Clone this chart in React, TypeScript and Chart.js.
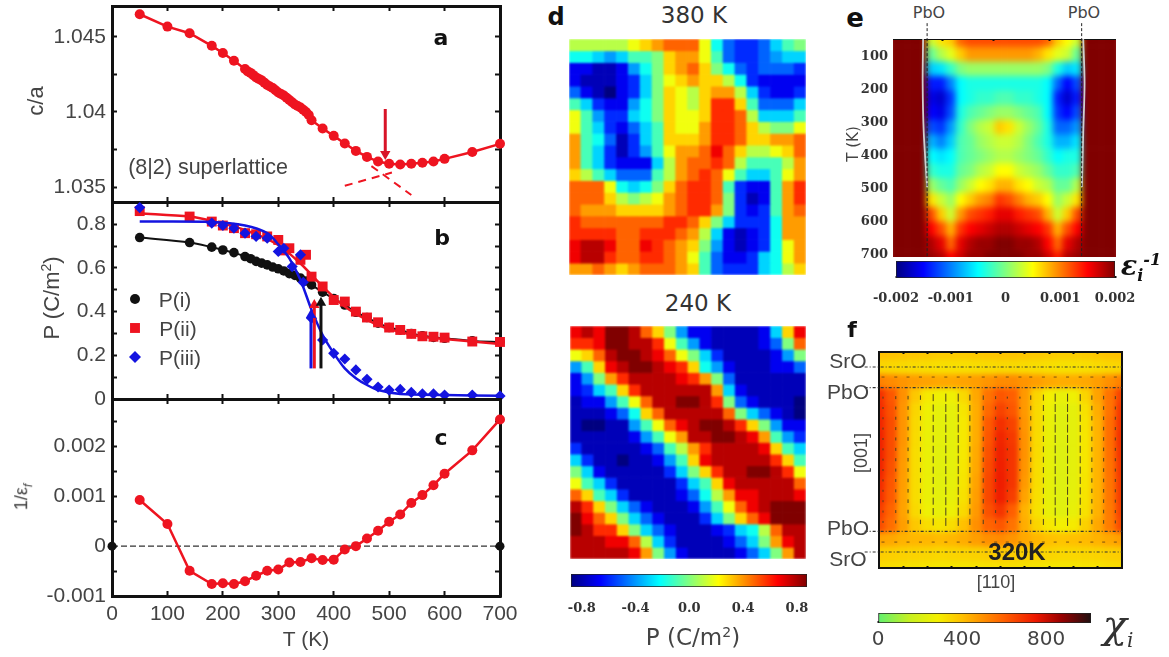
import { useEffect, useRef, type CSSProperties, type ReactNode } from "react"
import { Chart, registerables } from "chart.js"

Chart.register(...registerables)

const GRAY = "#444"
const INK = "#111"
const RED = "#ee1420"
const BLUE = "#1414e0"
const SANS = "'Liberation Sans', sans-serif"
const DEJAVU = "'DejaVu Sans', sans-serif"
const SERIF = "'DejaVu Serif', serif"

// panel a
const aTemps = [50, 100, 140, 180, 200, 220, 240, 245, 250, 255, 260, 265, 270, 275, 280, 285, 290, 295, 300, 305, 310, 315, 320, 325, 330, 335, 340, 345, 350, 355, 360, 380, 400, 420, 440, 460, 480, 500, 520, 540, 560, 580, 600, 650, 700]
const aRatio = [1.0465, 1.04568, 1.04524, 1.0444, 1.04392, 1.04341, 1.04286, 1.0427, 1.0426, 1.04245, 1.0423, 1.0422, 1.0421, 1.04195, 1.0418, 1.0417, 1.0416, 1.04145, 1.0413, 1.0412, 1.0411, 1.04095, 1.0408, 1.04065, 1.0405, 1.0404, 1.0403, 1.04015, 1.04, 1.0398, 1.03945, 1.0389, 1.03841, 1.0379, 1.03741, 1.03701, 1.0367, 1.03655, 1.0365, 1.03655, 1.03662, 1.0367, 1.03688, 1.03734, 1.03788]
const aDashA = [{ x: 420, y: 1.03509 }, { x: 505, y: 1.03597 }]
const aDashB = [{ x: 468, y: 1.0364 }, { x: 540, y: 1.03448 }]
const aArrow = [{ x: 493, y: 1.0402 }, { x: 493, y: 1.0372 }]
const aTicks = [1.035, 1.0375, 1.04, 1.0425, 1.045]
const aTickLabels = ["1.035", "", "1.04", "", "1.045"]

// panel b
const bBlackT = [50, 140, 180, 200, 220, 240, 250, 260, 270, 280, 290, 300, 310, 320, 330, 340, 350, 360, 380, 400, 420, 440, 460, 480, 500, 520, 540, 560, 580, 600, 650, 700]
const bBlack = [0.739, 0.716, 0.695, 0.682, 0.67, 0.652, 0.642, 0.63, 0.622, 0.614, 0.604, 0.596, 0.586, 0.574, 0.566, 0.553, 0.54, 0.522, 0.489, 0.46, 0.43, 0.397, 0.373, 0.347, 0.327, 0.316, 0.3, 0.289, 0.282, 0.278, 0.266, 0.261]
const bRedT = [50, 140, 180, 200, 220, 240, 260, 280, 300, 310, 320, 340, 350, 360, 380, 400, 420, 440, 460, 480, 500, 520, 540, 560, 580, 600, 650, 700]
const bRed = [0.86, 0.835, 0.812, 0.794, 0.782, 0.759, 0.754, 0.744, 0.728, 0.68, 0.69, 0.637, 0.66, 0.56, 0.515, 0.453, 0.446, 0.4, 0.373, 0.351, 0.327, 0.316, 0.298, 0.287, 0.285, 0.281, 0.263, 0.261]
const bRedFitT = [50, 140, 180, 240, 300, 340, 380, 420, 460, 500, 560, 600, 700]
const bRedFit = [0.85, 0.835, 0.815, 0.774, 0.705, 0.62, 0.515, 0.423, 0.362, 0.32, 0.285, 0.275, 0.252]
const bBlueT = [50, 180, 200, 220, 240, 260, 280, 300, 310, 325, 340, 345, 360, 380, 400, 420, 440, 460, 480, 500, 520, 540, 560, 580, 600, 650, 700]
const bBlue = [0.876, 0.805, 0.794, 0.782, 0.759, 0.744, 0.736, 0.675, 0.69, 0.606, 0.66, 0.534, 0.37, 0.27, 0.209, 0.183, 0.133, 0.09, 0.055, 0.041, 0.044, 0.03, 0.023, 0.023, 0.018, 0.018, 0.014]
const bBlueFitT = [50, 180, 240, 280, 300, 320, 340, 360, 380, 400, 420, 440, 460, 480, 520, 600, 700]
const bBlueFit = [0.812, 0.81, 0.794, 0.759, 0.708, 0.644, 0.545, 0.408, 0.293, 0.21, 0.14, 0.095, 0.064, 0.041, 0.023, 0.018, 0.015]
const bArrowBlack = [{ x: 377, y: 0.14 }, { x: 377, y: 0.44 }]
const bArrowRed = [{ x: 365, y: 0.14 }, { x: 365, y: 0.43 }]
const bArrowBlue = [{ x: 359, y: 0.14 }, { x: 359, y: 0.385 }]
const bTicks = [0, 0.1, 0.2, 0.3, 0.4, 0.5, 0.6, 0.7, 0.8]
const bTickLabels = ["0", "", "0.2", "", "0.4", "", "0.6", "", "0.8"]

// panel c
const cTemps = [50, 100, 140, 180, 200, 220, 240, 260, 280, 300, 320, 340, 360, 380, 400, 420, 440, 460, 480, 500, 520, 540, 560, 580, 600, 650, 700]
const cInverse = [0.000924, 0.000442, -0.000495, -0.00076, -0.000746, -0.00076, -0.000706, -0.000594, -0.000495, -0.000469, -0.00033, -0.000317, -0.000244, -0.000277, -0.000271, -0.000066, 0, 0.000152, 0.00031, 0.000488, 0.000634, 0.000865, 0.001023, 0.001221, 0.001452, 0.00192, 0.00254]
const cTicks = [-0.001, -0.0005, 0, 0.0005, 0.001, 0.0015, 0.002, 0.0025]
const cTickLabels = ["-0.001", "", "0", "", "0.001", "", "0.002", ""]

const tempTicks = [0, 100, 200, 300, 400, 500, 600, 700]

// panel d, in tenths of C/m2
const d380 = [
  [1, 1, 1, 1, 1, 2, 3, 4, 5, 5, 5, 2, -2, -5, -6, -6, -5, -3, -1, 0],
  [-2, -2, -3, -4, -3, -1, -1, 0, 3, 4, 4, 2, -1, -5, -6, -6, -5, -4, -3, -3],
  [-7, -7, -8, -8, -7, -4, -2, 0, 3, 4, 5, 3, 0, -2, -5, -6, -5, -5, -5, -6],
  [-7, -8, -8, -8, -7, -6, -3, 0, 2, 3, 4, 3, 3, 1, -2, -6, -7, -7, -7, -7],
  [-5, -7, -8, -9, -7, -6, -3, 0, 3, 2, 1, 3, 4, 4, 1, -3, -6, -7, -7, -6],
  [-1, -3, -6, -7, -7, -4, -2, 0, 3, 2, 1, 3, 6, 6, 3, -1, -5, -5, -5, -3],
  [2, -1, -4, -6, -6, -3, -2, 0, 3, 2, 2, 3, 6, 6, 5, 1, -3, -3, -3, -1],
  [2, -1, -3, -6, -7, -5, -3, -1, 3, 2, 2, 4, 6, 6, 5, 3, 1, 0, 0, 2],
  [4, -1, -2, -5, -8, -6, -3, -1, 3, 3, 3, 4, 6, 6, 5, 3, 3, 4, 4, 5],
  [4, -1, -3, -6, -8, -6, -4, -1, 2, 4, 4, 5, 7, 5, 3, 1, 1, 2, 3, 5],
  [4, -1, -3, -6, -7, -7, -7, -3, 1, 4, 5, 5, 6, 5, 1, -1, -1, -1, 1, 4],
  [3, 1, -1, -3, -5, -5, -5, -1, 1, 4, 5, 6, 5, 2, -1, -3, -3, -1, 2, 4],
  [5, 5, 5, 2, -2, -3, -2, 0, 3, 5, 6, 6, 5, -1, -6, -7, -7, -1, 4, 6],
  [5, 5, 5, 3, 1, 0, 1, 2, 4, 5, 6, 6, 5, 0, -6, -8, -7, -1, 4, 6],
  [5, 4, 4, 4, 3, 3, 3, 3, 4, 5, 6, 6, 4, 0, -6, -7, -6, -1, 4, 5],
  [6, 5, 5, 5, 5, 5, 5, 5, 6, 6, 5, 3, 0, -3, -6, -6, -6, -2, 4, 4],
  [6, 6, 6, 6, 5, 5, 6, 6, 6, 5, 4, 1, -3, -7, -8, -7, -6, -2, 4, 4],
  [7, 8, 8, 7, 5, 5, 7, 6, 5, 4, 3, 0, -4, -7, -8, -7, -6, -2, 2, 4],
  [7, 8, 8, 6, 5, 5, 6, 6, 5, 4, 2, -1, -5, -7, -7, -6, -3, -2, 2, 4],
  [4, 4, 5, 4, 3, 4, 5, 5, 5, 4, 3, -1, -5, -6, -6, -6, -3, -2, 1, 3],
]
const d240 = [
  [7, 8, 7, 9, 9, 8, 5, 3, 0, -4, -7, -7, -8, -8, -8, -8, -7, -3, 3, 7],
  [6, 6, 7, 9, 9, 8, 8, 6, 2, -1, -4, -7, -8, -8, -8, -8, -7, -5, 0, 5],
  [2, 3, 5, 8, 9, 9, 8, 7, 5, 2, 0, -3, -6, -8, -8, -8, -8, -7, -4, 0],
  [-4, -1, 3, 7, 8, 9, 9, 8, 7, 6, 3, -2, -4, -7, -8, -8, -8, -7, -7, -5],
  [-7, -4, 0, 4, 6, 8, 8, 8, 8, 7, 6, 4, 0, -5, -8, -8, -8, -8, -8, -8],
  [-7, -6, -3, -1, 3, 6, 8, 8, 8, 8, 8, 8, 4, -3, -7, -8, -8, -8, -8, -8],
  [-8, -7, -7, -4, -1, 2, 5, 8, 8, 9, 9, 8, 6, 0, -5, -7, -8, -8, -8, -9],
  [-8, -8, -8, -7, -5, -2, 3, 5, 8, 8, 8, 8, 8, 5, 0, -3, -5, -7, -8, -9],
  [-8, -9, -9, -8, -8, -4, -1, 2, 5, 7, 8, 9, 9, 8, 6, 3, 0, -4, -7, -7],
  [-8, -8, -8, -8, -8, -7, -4, -1, 2, 4, 8, 8, 9, 9, 8, 7, 4, -1, -4, -6],
  [-6, -8, -8, -8, -8, -8, -7, -5, -1, 1, 4, 6, 8, 8, 8, 8, 7, 3, -1, -3],
  [-3, -6, -8, -8, -9, -8, -8, -7, -4, -1, 3, 7, 8, 8, 8, 8, 8, 6, 3, -1],
  [0, -3, -7, -8, -8, -8, -8, -8, -6, -3, 0, 3, 6, 8, 8, 9, 9, 8, 6, 2],
  [2, -1, -3, -6, -8, -8, -8, -8, -8, -6, -3, -1, 3, 7, 8, 8, 8, 8, 8, 5],
  [5, 3, -1, -3, -6, -8, -8, -8, -8, -7, -5, -2, 1, 4, 7, 7, 8, 8, 8, 7],
  [8, 6, 3, 0, -3, -5, -7, -8, -8, -8, -7, -4, -1, 2, 5, 7, 8, 9, 9, 9],
  [9, 7, 5, 3, 0, -3, -5, -7, -8, -8, -8, -6, -3, 0, 3, 5, 7, 9, 9, 9],
  [9, 8, 6, 6, 3, 0, -3, -5, -7, -8, -8, -8, -7, -6, -3, -2, 1, 5, 8, 8],
  [8, 8, 8, 7, 7, 5, 1, -3, -6, -8, -8, -8, -8, -7, -5, -3, 0, 4, 7, 8],
  [8, 8, 8, 8, 8, 7, 4, 0, -4, -7, -8, -8, -8, -8, -7, -5, -3, 0, 4, 8],
]
const dBarTicks = [-0.8, -0.4, 0, 0.4, 0.8]
const dBarLabels = ["-0.8", "-0.4", "0.0", "0.4", "0.8"]

// panel e, in units of 1e-4
const eRows = [
  [20, 20, 20, 20, 3, 6, 7, 11, 12, 12, 12, 12, 12, 12, 12, 12, 11, 7, 5, 3, 20, 20, 20, 20],
  [20, 20, 20, 20, -1, 2, 4, 7, 9, 9, 9, 9, 9, 9, 9, 8, 6, 4, 3, -1, 20, 20, 20, 20],
  [20, 20, 20, 20, -7, -6, -3, 0, 1, 1, 1, 1, 1, 1, 1, 1, 0, -4, -7, -6, 20, 20, 20, 20],
  [20, 20, 20, 20, -14, -14, -10, -5, -4, -4, -4, -4, -4, -4, -4, -4, -5, -11, -15, -12, 20, 20, 20, 20],
  [20, 20, 20, 20, -16, -17, -13, -5, -4, -3, -3, -2, -2, -3, -3, -4, -5, -14, -17, -14, 20, 20, 20, 20],
  [20, 20, 20, 20, -15, -16, -12, -4, -2, -1, 0, 1, 1, 0, -1, -2, -5, -13, -15, -12, 20, 20, 20, 20],
  [20, 20, 20, 20, -12, -13, -9, -3, 0, 2, 3, 7, 6, 3, 1, -1, -4, -11, -11, -9, 20, 20, 20, 20],
  [20, 20, 20, 20, -8, -10, -7, -2, -1, 1, 2, 3, 3, 2, 0, -2, -4, -8, -8, -6, 20, 20, 20, 20],
  [20, 20, 20, 20, -5, -6, -5, -2, -1, 0, 1, 2, 2, 1, 0, -1, -3, -5, -4, -4, 20, 20, 20, 20],
  [20, 20, 20, 20, -3, -4, -4, -1, 0, 2, 3, 5, 5, 3, 2, 1, -1, -3, -3, -2, 20, 20, 20, 20],
  [20, 20, 20, 20, 1, -1, -2, 1, 3, 5, 6, 8, 8, 6, 5, 3, 2, -1, -1, 2, 20, 20, 20, 20],
  [20, 20, 20, 20, 6, 3, 1, 5, 7, 9, 10, 13, 12, 10, 8, 7, 5, 1, 3, 6, 20, 20, 20, 20],
  [20, 20, 20, 20, 12, 7, 3, 9, 12, 13, 14, 16, 16, 14, 13, 12, 8, 3, 7, 12, 20, 20, 20, 20],
  [20, 20, 20, 20, 15, 12, 8, 13, 15, 16, 17, 18, 18, 17, 16, 15, 13, 8, 12, 15, 20, 20, 20, 20],
  [20, 20, 20, 20, 18, 16, 11, 16, 18, 19, 19, 20, 20, 19, 19, 18, 15, 11, 16, 18, 20, 20, 20, 20],
  [20, 20, 20, 20, 19, 18, 15, 17, 19, 19, 20, 20, 20, 20, 19, 19, 17, 14, 18, 19, 20, 20, 20, 20],
]
const eTempTicks = [100, 200, 300, 400, 500, 600, 700]
const ePbOLeft = [{ x: 0.153, y: -2 }, { x: 0.153, y: 706 }]
const ePbORight = [{ x: 0.846, y: -2 }, { x: 0.846, y: 706 }]
const eEdgeLeft = [{ x: 0.135, y: 46 }, { x: 0.133, y: 180 }, { x: 0.138, y: 330 }, { x: 0.153, y: 494 }]
const eEdgeRight = [{ x: 0.853, y: 46 }, { x: 0.859, y: 180 }, { x: 0.853, y: 330 }, { x: 0.847, y: 494 }]
const eBarTicks = [-0.002, -0.001, 0, 0.001, 0.002]
const eBarLabels = ["-0.002", "-0.001", "0", "0.001", "0.002"]

// panel f
const fRows = [
  [400, 395, 390, 385, 380, 375, 375, 375, 380, 385, 390, 390, 385, 380, 375, 370, 370, 375, 385, 395, 400],
  [350, 345, 340, 335, 330, 325, 325, 325, 330, 335, 340, 340, 335, 330, 325, 320, 320, 325, 335, 345, 350],
  [530, 510, 490, 470, 460, 450, 450, 460, 470, 490, 510, 510, 490, 470, 450, 440, 440, 450, 470, 500, 530],
  [700, 620, 500, 380, 300, 270, 270, 340, 450, 560, 620, 600, 480, 350, 280, 250, 270, 350, 460, 560, 660],
  [710, 630, 490, 350, 270, 240, 240, 310, 440, 580, 660, 620, 480, 340, 260, 225, 240, 320, 440, 560, 680],
  [720, 640, 490, 340, 260, 235, 235, 300, 440, 610, 700, 660, 490, 340, 250, 220, 235, 310, 430, 570, 690],
  [730, 640, 490, 335, 255, 235, 235, 300, 440, 620, 720, 680, 495, 335, 250, 220, 235, 305, 425, 570, 695],
  [730, 640, 480, 330, 255, 230, 235, 300, 445, 630, 730, 690, 495, 335, 245, 215, 235, 305, 425, 565, 690],
  [725, 630, 475, 330, 255, 230, 235, 305, 450, 640, 735, 690, 490, 330, 245, 215, 235, 305, 425, 560, 680],
  [710, 620, 470, 330, 255, 230, 240, 310, 460, 650, 740, 690, 480, 330, 245, 215, 235, 310, 425, 555, 675],
  [700, 610, 465, 330, 255, 235, 245, 320, 470, 650, 735, 670, 460, 325, 245, 220, 240, 315, 425, 550, 670],
  [670, 590, 460, 340, 265, 245, 260, 340, 480, 630, 690, 600, 430, 320, 250, 225, 245, 320, 430, 545, 660],
  [640, 570, 470, 380, 330, 310, 330, 400, 500, 590, 620, 560, 440, 350, 300, 280, 295, 360, 450, 540, 640],
  [460, 450, 430, 420, 420, 410, 420, 440, 470, 500, 510, 490, 450, 420, 400, 390, 400, 410, 430, 450, 470],
  [370, 365, 360, 355, 350, 345, 350, 355, 360, 370, 375, 370, 360, 355, 350, 345, 345, 350, 355, 365, 370],
  [335, 330, 325, 320, 315, 310, 310, 310, 315, 320, 325, 325, 320, 315, 310, 310, 310, 315, 320, 330, 335],
]
const fLayers = [1.04, 2.48, 12.45, 13.89]
const fArrowCols = [0.33, 1.38, 2.39, 3.41, 4.46, 5.5, 6.52, 7.48, 8.58, 9.6, 10.56, 11.6, 12.49, 13.53, 14.5, 15.52, 16.56, 17.52, 18.49, 19.45]
const fArrowRows = [3.17, 3.89, 4.6, 5.32, 6.04, 6.76, 7.48, 8.2, 8.92, 9.64, 10.36, 11.08, 11.8]
const fArrowLengths = [1, 1.5, 1.8, 2.2, 3.5, 4, 4, 3, 2.2, 1.5, 1, 1, 2.2, 3, 4, 4, 3.5, 2.2, 1.8, 1.5]
const fDotRows = [1.74, 13.2]
const fBarTicks = [0, 400, 800]
const fBarLabels = ["0", "400", "800"]

const JET_STOPS: [number, string][] = [
  [0, "#000080"], [0.125, "#0000ff"], [0.375, "#00ffff"], [0.625, "#ffff00"], [0.875, "#ff0000"], [1, "#800000"],
]
const CHI_STOPS: [number, string][] = [
  [0, "#60f070"], [0.15, "#c8f020"], [0.28, "#f4f000"], [0.395, "#ffc000"], [0.59, "#ff6000"], [0.74, "#ee1800"], [0.86, "#990000"], [1, "#201010"],
]

function hexToRgb(hex: string) {
  return [1, 3, 5].map((i) => parseInt(hex.slice(i, i + 2), 16))
}

function rampColor(stops: [number, string][], t: number) {
  const c = Math.min(1, Math.max(0, t))
  let i = 0
  while (i < stops.length - 2 && c > stops[i + 1][0]) i++
  const [t0, h0] = stops[i]
  const [t1, h1] = stops[i + 1]
  const k = (c - t0) / (t1 - t0)
  const a = hexToRgb(h0)
  const b = hexToRgb(h1)
  return `rgb(${a.map((v, n) => Math.round(v + (b[n] - v) * k)).join(",")})`
}

const pairs = (xs: number[], ys: number[]) => xs.map((x, i) => ({ x, y: ys[i] }))

function fixedTicks(values: number[]) {
  return (scale: any) => {
    scale.ticks = values.map((value) => ({ value }))
  }
}

function fixedSize(prop: "width" | "height", size: number) {
  return (scale: any) => {
    scale[prop] = size
    scale.paddingLeft = 0
    scale.paddingRight = 0
    scale.paddingTop = 0
    scale.paddingBottom = 0
  }
}

const tickFont = { family: "Liberation Sans", size: 21 }

// linear axis with a frame line and ticks pointing into the plot
function axis(opts: {
  position: string
  min: number
  max: number
  size: number
  values: number[]
  labels?: string[]
  tick?: number
  frame?: number
  reverse?: boolean
  font?: any
  color?: string
  padding?: number
}) {
  const horizontal = opts.position === "top" || opts.position === "bottom"
  const tick = opts.tick ?? 5
  return {
    type: "linear",
    position: opts.position,
    min: opts.min,
    max: opts.max,
    reverse: opts.reverse ?? false,
    afterBuildTicks: fixedTicks(opts.values),
    afterFit: fixedSize(horizontal ? "height" : "width", opts.size),
    ticks: {
      display: !!opts.labels,
      autoSkip: false,
      maxRotation: 0,
      color: opts.color ?? GRAY,
      font: opts.font ?? tickFont,
      padding: (opts.padding ?? 6) + tick,
      callback: (_v: any, i: number) => (opts.labels ? opts.labels[i] : ""),
    },
    grid: { drawOnChartArea: false, tickLength: -tick, tickWidth: 2, tickColor: INK },
    border: { display: (opts.frame ?? 3) > 0, width: opts.frame ?? 3, color: INK },
  }
}

function frameScales(p: {
  height: number
  top: number
  bottom: number
  yMin: number
  yMax: number
  yTicks: number[]
  yLabels: string[]
  showX: boolean
}) {
  return {
    x: axis({ position: "bottom", min: 0, max: 700, size: p.bottom, values: tempTicks, labels: p.showX ? tempTicks.map(String) : undefined }),
    xTop: axis({ position: "top", min: 0, max: 700, size: 0, values: tempTicks }),
    y: axis({ position: "left", min: p.yMin, max: p.yMax, size: 112, values: p.yTicks, labels: p.yLabels, padding: 6 }),
    yRight: axis({ position: "right", min: p.yMin, max: p.yMax, size: 30, values: p.yTicks }),
  }
}

function lineChart(datasets: any[], scales: any, top: number) {
  return {
    type: "scatter",
    data: { datasets: datasets.map((d) => ({ clip: false, xAxisID: "x", yAxisID: "y", ...d })) },
    options: {
      responsive: false,
      animation: false,
      layout: { padding: { top } },
      plugins: { legend: { display: false }, tooltip: { enabled: false } },
      scales,
    },
  }
}

const markers = (data: any[], color: string, style: string, radius: number, order: number) => ({
  data,
  pointStyle: style,
  pointRadius: radius,
  backgroundColor: color,
  borderColor: color,
  pointBorderWidth: 0,
  showLine: false,
  order,
})

const curve = (data: any[], color: string, order: number, extra: any = {}) => ({
  data,
  borderColor: color,
  borderWidth: 2.5,
  pointRadius: 0,
  showLine: true,
  order,
  ...extra,
})

const arrow = (data: any[], color: string, rotation: number, order: number) => ({
  data,
  borderColor: color,
  backgroundColor: color,
  borderWidth: 3,
  showLine: true,
  pointStyle: "triangle",
  pointRotation: rotation,
  pointRadius: [0, 6],
  pointBorderWidth: 0,
  order,
})

const configA = lineChart(
  [
    curve(pairs(aTemps, aRatio), RED, 3),
    markers(pairs(aTemps, aRatio), RED, "circle", 5, 2),
    curve(aDashA, RED, 1, { borderDash: [8, 6], borderWidth: 2 }),
    curve(aDashB, RED, 1, { borderDash: [8, 6], borderWidth: 2 }),
    arrow(aArrow, "#d81428", 180, 0),
  ],
  frameScales({ height: 215, top: 5, bottom: 13, yMin: 1.03401, yMax: 1.04705, yTicks: aTicks, yLabels: aTickLabels, showX: false }),
  5,
)

const configB = lineChart(
  [
    curve(pairs(bBlackT, bBlack), INK, 8, { borderWidth: 2, tension: 0.3 }),
    markers(pairs(bBlackT, bBlack), INK, "circle", 4.8, 7),
    curve(pairs(bRedFitT, bRedFit), RED, 6, { tension: 0.3 }),
    markers(pairs(bRedT, bRed), RED, "rect", 7, 5),
    curve(pairs(bBlueFitT, bBlueFit), BLUE, 4, { tension: 0.3 }),
    markers(pairs(bBlueT, bBlue), BLUE, "rectRot", 5.6, 3),
    arrow(bArrowRed, RED, 0, 2),
    arrow(bArrowBlue, BLUE, 0, 1),
    arrow(bArrowBlack, INK, 0, 0),
    markers([{ x: 41.5, y: 0.458 }], INK, "circle", 5, 0),
    markers([{ x: 41.5, y: 0.325 }], RED, "rect", 7, 0),
    markers([{ x: 41.5, y: 0.192 }], BLUE, "rectRot", 6, 0),
  ],
  frameScales({ height: 225, top: 12, bottom: 16, yMin: 0, yMax: 0.9016, yTicks: bTicks, yLabels: bTickLabels, showX: false }),
  12,
)

const configC = lineChart(
  [
    curve([{ x: 0, y: 0 }, { x: 700, y: 0 }], "#333", 4, { borderDash: [6, 3], borderWidth: 1.3 }),
    markers([{ x: 0, y: 0 }, { x: 700, y: 0 }], INK, "circle", 4.5, 3),
    curve(pairs(cTemps, cInverse), RED, 2),
    markers(pairs(cTemps, cInverse), RED, "circle", 5, 1),
  ],
  frameScales({ height: 272, top: 14, bottom: 61, yMin: -0.001, yMax: 0.00295, yTicks: cTicks, yLabels: cTickLabels, showX: true }),
  14,
)

const smallBold = { family: "DejaVu Serif", size: 13, weight: "bold" }

const configEFrame = lineChart(
  [
    curve(eEdgeLeft, "#cfcfcf", 3, { borderWidth: 1.8, tension: 0.3 }),
    curve(eEdgeRight, "#cfcfcf", 3, { borderWidth: 1.8, tension: 0.3 }),
    curve(ePbOLeft, "#222", 1, { borderDash: [3, 2], borderWidth: 1 }),
    curve(ePbORight, "#222", 1, { borderDash: [3, 2], borderWidth: 1 }),
  ],
  {
    x: axis({ position: "bottom", min: 0, max: 1, size: 14, values: [], frame: 0 }),
    xTop: axis({ position: "top", min: 0, max: 1, size: 0, values: [0.22, 0.45, 0.7], tick: 2, frame: 1 }),
    y: axis({ position: "left", min: 46, max: 706, size: 43, values: eTempTicks, labels: eTempTicks.map(String), reverse: true, tick: 0, frame: 0, font: smallBold, color: "#333", padding: 5 }),
  },
  24,
)

const configFFrame = lineChart(
  [
    ...fLayers.map((y) => curve([{ x: -1.18, y }, { x: 20, y }], "#333", 1, { borderDash: [3, 2, 1, 2], borderWidth: 1.2 })),
    ...fArrowCols.map((x, i) => ({
      data: fArrowRows.map((y) => ({ x, y })),
      pointStyle: "line",
      pointRotation: 90,
      pointRadius: fArrowLengths[i],
      pointBorderWidth: 1,
      pointBorderColor: "#4a4020",
      showLine: false,
      order: 2,
    })),
    ...fDotRows.map((y) => ({
      data: fArrowCols.map((x) => ({ x, y })),
      pointStyle: "line",
      pointRadius: 1.5,
      pointBorderWidth: 1,
      pointBorderColor: "#7a5010",
      showLine: false,
      order: 2,
    })),
  ],
  {
    x: axis({ position: "bottom", min: 0, max: 20, size: 14, values: [2, 4, 6, 8, 10, 12, 14, 16, 18], tick: 2, frame: 2 }),
    xTop: axis({ position: "top", min: 0, max: 20, size: 0, values: [2, 4, 6, 8, 10, 12, 14, 16, 18], tick: 2, frame: 2 }),
    y: axis({ position: "left", min: 0, max: 15, size: 39, values: [], reverse: true, tick: 0, frame: 2 }),
    yRight: axis({ position: "right", min: 0, max: 15, size: 14, values: [], reverse: true, tick: 0, frame: 2 }),
  },
  12,
)

function colorbar(p: { min: number; max: number; stops: [number, string][]; values: number[]; labels: string[]; font: any; color: string; tick: number; side: number; height: number; padding: number }) {
  return {
    type: "bar",
    data: {
      labels: ["bar"],
      datasets: [
        {
          data: [[p.min, p.max]],
          barPercentage: 1,
          categoryPercentage: 1,
          borderWidth: 1,
          borderSkipped: false,
          borderColor: "#222",
          backgroundColor: (ctx: any) => {
            const area = ctx.chart.chartArea
            if (!area) return "transparent"
            const g = ctx.chart.ctx.createLinearGradient(area.left, 0, area.right, 0)
            p.stops.forEach(([t, c]) => g.addColorStop(t, c))
            return g
          },
        },
      ],
    },
    options: {
      indexAxis: "y",
      responsive: false,
      animation: false,
      layout: { padding: { left: p.side, right: p.side } },
      plugins: { legend: { display: false }, tooltip: { enabled: false } },
      scales: {
        x: axis({ position: "bottom", min: p.min, max: p.max, size: p.height, values: p.values, labels: p.labels, tick: p.tick, frame: 0, font: p.font, color: p.color, padding: p.padding }),
        y: { display: false },
      },
    },
  }
}

function heatChart(rows: number[][], color: (v: number) => string) {
  return {
    type: "bar",
    data: {
      labels: rows[0].map((_, i) => String(i)),
      datasets: rows.map((row, j) => ({
        data: row.map(() => [j - 0.5, j + 0.5]),
        backgroundColor: row.map(color),
        barPercentage: 1,
        categoryPercentage: 1,
        grouped: false,
        borderWidth: 0,
      })),
    },
    options: {
      responsive: false,
      animation: false,
      plugins: { legend: { display: false }, tooltip: { enabled: false } },
      scales: {
        x: { display: false },
        y: { display: false, reverse: true, min: -0.5, max: rows.length - 0.5 },
      },
    },
  }
}

function ChartCanvas({ config, left, top, width, height, style }: { config: any; left: number; top: number; width: number; height: number; style?: CSSProperties }) {
  const ref = useRef<HTMLCanvasElement>(null)
  useEffect(() => {
    if (!ref.current) return
    const chart = new Chart(ref.current, config)
    return () => chart.destroy()
  }, [config])
  return <canvas ref={ref} width={width} height={height} style={{ position: "absolute", left, top, width, height, ...style }} />
}

// heat map clipped to its plot rectangle; `edge` keeps cell centres on the border so a blur does not fade there
function Heat({ rows, color, left, top, width, height, blur, edge }: { rows: number[][]; color: (v: number) => string; left: number; top: number; width: number; height: number; blur: number; edge: boolean }) {
  const padX = edge ? width / (rows[0].length - 1) / 2 : 0
  const padY = edge ? height / (rows.length - 1) / 2 : 0
  const config = useRef(heatChart(rows, color)).current
  return (
    <div style={{ position: "absolute", left, top, width, height, overflow: "hidden" }}>
      <ChartCanvas config={config} left={-padX} top={-padY} width={Math.round(width + 2 * padX)} height={Math.round(height + 2 * padY)} style={{ filter: `blur(${blur}px)` }} />
    </div>
  )
}

function Label({ x, y, children, size = 21, font = SANS, color = GRAY, rotate = 0, bold = false, style }: { x: number; y: number; children: ReactNode; size?: number; font?: string; color?: string; rotate?: number; bold?: boolean; style?: CSSProperties }) {
  return (
    <div
      style={{
        position: "absolute",
        left: x,
        top: y,
        transform: `translate(-50%, -50%) rotate(${rotate}deg)`,
        fontFamily: font,
        fontSize: size,
        color,
        fontWeight: bold ? "bold" : "normal",
        whiteSpace: "nowrap",
        lineHeight: 1,
        ...style,
      }}
    >
      {children}
    </div>
  )
}

const jetD = (v: number) => rampColor(JET_STOPS, (v + 9) / 18)
const jetE = (v: number) => rampColor(JET_STOPS, (v + 20) / 40)
const chiF = (v: number) => rampColor(CHI_STOPS, v / 1014)

const barD = colorbar({ min: -0.88, max: 0.875, stops: JET_STOPS, values: dBarTicks, labels: dBarLabels, font: smallBold, color: "#333", tick: 0, side: 30, height: 34, padding: 14 })
const barE = colorbar({ min: -0.002, max: 0.002, stops: JET_STOPS, values: eBarTicks, labels: eBarLabels, font: smallBold, color: "#333", tick: 2, side: 30, height: 30, padding: 13 })
const barF = colorbar({ min: 0, max: 1014, stops: CHI_STOPS, values: fBarTicks, labels: fBarLabels, font: { family: "DejaVu Sans", size: 20 }, color: GRAY, tick: 2, side: 20, height: 34, padding: 5 })

export default function App() {
  return (
    <div style={{ position: "absolute", left: 0, top: 0, width: 1169, height: 657, background: "#fff", overflow: "hidden", filter: "blur(0.4px)" }}>
      <ChartCanvas config={configA} left={0} top={0} width={530} height={215} />
      <ChartCanvas config={configB} left={0} top={190} width={530} height={225} />
      <ChartCanvas config={configC} left={0} top={385} width={530} height={272} />

      <Label x={36} y={101} rotate={-90} size={22}>c/a</Label>
      <Label x={51} y={298} rotate={-90} size={22}>P (C/m<sup style={{ fontSize: 14 }}>2</sup>)</Label>
      <Label x={23} y={497} rotate={-90} size={18}>1/ε<sub style={{ fontSize: 12, fontStyle: "italic" }}>f</sub></Label>
      <Label x={306} y={638}>T (K)</Label>
      <Label x={208} y={168} size={21.5}>(8|2) superlattice</Label>
      <Label x={175} y={299}>P(i)</Label>
      <Label x={178} y={328}>P(ii)</Label>
      <Label x={180} y={357}>P(iii)</Label>
      <Label x={441} y={38} size={22} font={DEJAVU} color={INK} bold>a</Label>
      <Label x={442} y={238} size={22} font={DEJAVU} color={INK} bold>b</Label>
      <Label x={441} y={438} size={22} font={DEJAVU} color={INK} bold>c</Label>

      <Label x={556} y={17} size={24} font={DEJAVU} color={INK} bold>d</Label>
      <Label x={694} y={15} size={23} font={DEJAVU} color="#333">380 K</Label>
      <Heat rows={d380} color={jetD} left={569} top={39} width={237} height={236} blur={0.8} edge={false} />
      <Label x={698} y={303} size={23} font={DEJAVU} color="#333">240 K</Label>
      <Heat rows={d240} color={jetD} left={570} top={326} width={236} height={233} blur={0.8} edge={false} />
      <ChartCanvas config={barD} left={541} top={574} width={296} height={47} />
      <Label x={693} y={637} size={23} font={DEJAVU}>P (C/m<sup style={{ fontSize: 14 }}>2</sup>)</Label>

      <Label x={855} y={18} size={26} font={DEJAVU} color={INK} bold>e</Label>
      <Label x={929} y={13} size={16} font={DEJAVU}>PbO</Label>
      <Label x={1084} y={13} size={16} font={DEJAVU}>PbO</Label>
      <Heat rows={eRows} color={jetE} left={893} top={39} width={223} height={218} blur={3} edge />
      <ChartCanvas config={configEFrame} left={850} top={15} width={266} height={256} />
      <Label x={853} y={144} size={15} rotate={-90} font={DEJAVU}>T (K)</Label>
      <ChartCanvas config={barE} left={866} top={261} width={279} height={47} />
      <Label x={1141} y={268} size={27} font={SERIF} color={INK} bold style={{ fontStyle: "italic" }}>
        ε<sub style={{ fontSize: 16 }}>i</sub><sup style={{ fontSize: 16 }}>-1</sup>
      </Label>

      <Label x={852} y={330} size={22} font={DEJAVU} color={INK} bold>f</Label>
      <Heat rows={fRows} color={chiF} left={879} top={352} width={243} height={216} blur={2.5} edge />
      <ChartCanvas config={configFFrame} left={840} top={340} width={296} height={242} />
      <Label x={848} y={360}>SrO</Label>
      <Label x={848} y={391}>PbO</Label>
      <Label x={848} y={527}>PbO</Label>
      <Label x={848} y={558}>SrO</Label>
      <Label x={861} y={453} size={18} rotate={-90}>[001]</Label>
      <Label x={996} y={582} size={18}>[110]</Label>
      <Label x={1017} y={552} size={24} color="#222" bold>320K</Label>
      <ChartCanvas config={barF} left={858} top={613} width={253} height={44} />
      <Label x={1118} y={627} size={40} font={SERIF} color="#333" style={{ fontStyle: "italic" }}>
        χ<sub style={{ fontSize: 20 }}>i</sub>
      </Label>
    </div>
  )
}
